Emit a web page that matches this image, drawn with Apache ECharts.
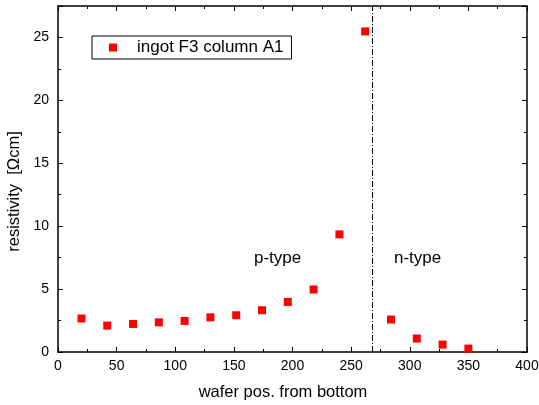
<!DOCTYPE html>
<html><head><meta charset="utf-8">
<script src="https://cdn.jsdelivr.net/npm/echarts@6/dist/echarts.min.js"></script>
<style>html,body{margin:0;padding:0;background:#fff}#c{width:539px;height:405px}</style>
</head><body><div id="c"></div>
<script>
const positions = [20, 42, 64, 86, 108, 130, 152, 174, 196, 218, 240, 262, 284, 306, 328, 350];
const resistivity = [2.66, 2.1, 2.23, 2.36, 2.47, 2.76, 2.92, 3.32, 3.98, 4.97, 9.35, 25.48, 2.58, 1.07, 0.59, 0.27];
const seriesName = 'ingot F3 column A1';
const boundaryX = 268;
const xTicks = [0, 50, 100, 150, 200, 250, 300, 350, 400];
const yTicks = [0, 5, 10, 15, 20, 25];

const font = 'Liberation Sans, Arial, sans-serif';
const chart = echarts.init(document.getElementById('c'));
const axisCommon = {
  axisLine: {show: true, onZero: false, lineStyle: {color: '#000', width: 1.5}},
  axisTick: {show: true, inside: true, length: 5, lineStyle: {color: '#000', width: 1}},
  minorTick: {show: true, splitNumber: 2, length: 3, lineStyle: {color: '#000', width: 1}},
  splitLine: {show: false}
};
chart.setOption({
  animation: false,
  grid: {left: 58, right: 12, top: 6, bottom: 53, containLabel: false, outerBoundsMode: 'none'},
  legend: {
    left: 92, top: 36, orient: 'horizontal',
    data: [{name: seriesName, icon: 'rect'}],
    itemWidth: 8, itemHeight: 8, itemGap: 10,
    borderColor: '#000', borderWidth: 1, borderRadius: 0,
    padding: [3, 8, 3, 17],
    textStyle: {fontFamily: font, fontSize: 17, color: '#000', padding: [0, 0, 0, 15]}
  },
  xAxis: [
    Object.assign({type: 'value', min: 0, max: 400, interval: 50, position: 'bottom',
      name: 'wafer pos. from bottom', nameLocation: 'middle', nameGap: 32,
      nameTextStyle: {fontFamily: font, fontSize: 16.5, color: '#000', padding: [0, 19, 0, 0]},
      axisLabel: {fontFamily: font, fontSize: 14, color: '#000', margin: 7,
        formatter: v => xTicks.includes(v) ? String(v) : ''}}, axisCommon),
    Object.assign({type: 'value', min: 0, max: 400, interval: 50, position: 'top',
      axisLabel: {show: false}}, axisCommon)
  ],
  yAxis: [
    Object.assign({type: 'value', min: 0, max: 27.5, interval: 5, position: 'left',
      name: 'resistivity  [\u03A9cm]', nameLocation: 'middle', nameGap: 31,
      nameTextStyle: {fontFamily: font, fontSize: 16.5, color: '#000', padding: [0, 25, 0, 0]},
      axisLabel: {fontFamily: font, fontSize: 14, color: '#000', margin: 9, showMaxLabel: false,
        formatter: v => yTicks.includes(v) ? String(v) : ''}}, axisCommon),
    Object.assign({type: 'value', min: 0, max: 27.5, interval: 5, position: 'right',
      axisLabel: {show: false}}, axisCommon)
  ],
  series: [{
    name: seriesName, type: 'scatter', symbol: 'rect', symbolSize: 8,
    itemStyle: {color: '#ff0000', opacity: 1},
    data: positions.map((x, i) => [x, resistivity[i]]),
    markLine: {
      silent: true, symbol: 'none', label: {show: false},
      lineStyle: {color: '#000', width: 1, type: [6, 2, 1, 2]},
      data: [{xAxis: boundaryX}]
    }
  }],
  graphic: [
    {type: 'text', left: 254, top: 250, style: {text: 'p-type', font: '17px ' + font, fill: '#000'}},
    {type: 'text', left: 394, top: 250, style: {text: 'n-type', font: '17px ' + font, fill: '#000'}}
  ]
});
</script></body></html>
